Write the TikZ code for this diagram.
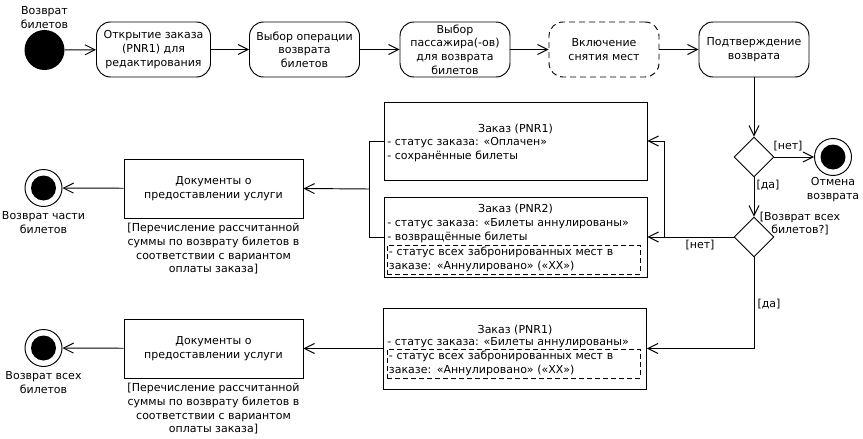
\documentclass[tikz,border=0pt]{standalone}
\usepackage{fontspec}
\setmainfont{DejaVu Sans}
\usetikzlibrary{arrows.meta,shapes.geometric}
\begin{document}
\begin{tikzpicture}[x=1pt,y=-1pt,
  every node/.style={font=\fontsize{11}{13.6}\selectfont},
  line width=0.95pt,
  act/.style={draw, rounded corners=14pt, minimum width=110pt, minimum height=55pt, align=center, inner sep=1pt},
  dashact/.style={act, dash pattern=on 6pt off 4pt},
  docbox/.style={draw, minimum width=179pt, minimum height=59pt, align=center, inner sep=1pt},
  objbox/.style={draw, minimum width=263pt, inner sep=0pt},
  dashbox/.style={draw, dash pattern=on 5pt off 3pt, minimum width=253pt, minimum height=29pt, text width=250pt, inner xsep=1.5pt, inner ysep=0pt, align=left},
  lbl/.style={align=center, inner sep=0pt},
  ltext/.style={anchor=base west, inner sep=0pt},
  ctext/.style={anchor=base, inner sep=0pt},
  startst/.style={circle, fill=black, minimum size=40pt, inner sep=0pt},
  endst/.style={circle, draw, minimum size=37pt, inner sep=0pt,
    path picture={\fill[black] (path picture bounding box.center) circle (12.5pt);}},
  decision/.style={diamond, draw, minimum width=40pt, minimum height=40pt, inner sep=0pt, aspect=1},
  flow/.style={-{Straight Barb[length=10pt,width=10pt]}}
]
\useasboundingbox (0,0) rectangle (863,439);

% top row
\node[startst] (start) at (44.5,50) {};
\node[lbl] (startlbl) at (44.5,17.5) {Возврат\\билетов};
\node[act, minimum width=114pt] (b1) at (153.5,49.5) {Открытие заказа\\(PNR1) для\\редактирования};
\node[act] (b2) at (304.5,49.5) {Выбор операции\\возврата\\билетов};
\node[act] (b3) at (455,49.5) {Выбор\\пассажира(-ов)\\для возврата\\билетов};
\node[dashact] (b4) at (604,49.5) {Включение\\снятия мест};
\node[act] (b5) at (754,49.5) {Подтверждение\\возврата};

\draw[flow] (start) -- (b1);
\draw[flow] (b1) -- (b2);
\draw[flow] (b2) -- (b3);
\draw[flow] (b3) -- (b4);
\draw[flow] (b4) -- (b5);

% decisions
\node[decision] (d1) at (754,157) {};
\node[endst] (cancel) at (833,157) {};
\node[lbl] (cancellbl) at (833,189.5) {Отмена\\возврата};
\node[decision] (d2) at (754,237) {};

\draw[flow] (b5) -- (d1);
\draw[flow] (d1) -- (cancel);
\node[lbl] (no1) at (788,146) {[нет]};
\draw[flow] (d1) -- (d2);
\node[lbl] (yes1) at (768,185) {[да]};
\node[lbl] (q2) at (800,223.5) {[Возврат всех\\билетов?]};

% object boxes
\node[objbox, minimum height=78pt] (pnrA) at (515.5,141) {};
\node[ctext] (pnrAt) at (515.5,132) {Заказ (PNR1)};
\node[ltext] (pnrA1) at (387,145.5) {- статус заказа: «Оплачен»};
\node[ltext] (pnrA2) at (387,159) {- сохранённые билеты};

\node[objbox, minimum height=80pt] (pnrB) at (515.5,237) {};
\node[ctext] (pnrBt) at (515.5,212) {Заказ (PNR2)};
\node[ltext] (pnrB1) at (387,226) {- статус заказа: «Билеты аннулированы»};
\node[ltext] (pnrB2) at (387,240) {- возвращённые билеты};
\node[dashbox, anchor=west] (pnrB3) at (387,259.5) {- статус всех забронированных мест в\\заказе: «Аннулировано» («XX»)};

\node[objbox, minimum height=81pt] (pnrC) at (515,348.5) {};
\node[ctext] (pnrCt) at (515,333) {Заказ (PNR1)};
\node[ltext] (pnrC1) at (387,345.5) {- статус заказа: «Билеты аннулированы»};
\node[dashbox, anchor=west] (pnrC2) at (387,363.5) {- статус всех забронированных мест в\\заказе: «Аннулировано» («XX»)};

\coordinate (j1) at (664,237);
\draw[flow] (d2) -- (pnrB);
\draw[flow] (j1) |- (pnrA.east);
\node[lbl] (no2) at (700,245) {[нет]};
\draw[flow] (d2.south) |- (pnrC.east);
\node[lbl] (yes2) at (769,304) {[да]};

% documents
\node[docbox] (doc1) at (213.5,188.5) {Документы о\\предоставлении услуги};
\node[lbl, anchor=north] (doc1lbl) at (213.5,223) {[Перечисление рассчитанной\\суммы по возврату билетов в\\соответствии с вариантом\\оплаты заказа]};
\node[docbox] (doc2) at (213.5,348.5) {Документы о\\предоставлении услуги};
\node[lbl, anchor=north] (doc2lbl) at (213.5,383) {[Перечисление рассчитанной\\суммы по возврату билетов в\\соответствии с вариантом\\оплаты заказа]};

\coordinate (j2) at (369,189);
\draw (pnrA.west) -| (j2);
\draw (pnrB.west) -| (j2);
\draw[flow] (j2) -- (doc1.east);
\draw[flow] (pnrC.west) -- (doc2.east);

% end states
\node[endst] (endA) at (43.5,188) {};
\node[lbl] (endAlbl) at (43.5,222.5) {Возврат части\\билетов};
\node[endst] (endB) at (43.5,348) {};
\node[lbl] (endBlbl) at (43.5,382.5) {Возврат всех\\билетов};
\draw[flow] (doc1) -- (endA);
\draw[flow] (doc2) -- (endB);
\end{tikzpicture}
\end{document}
